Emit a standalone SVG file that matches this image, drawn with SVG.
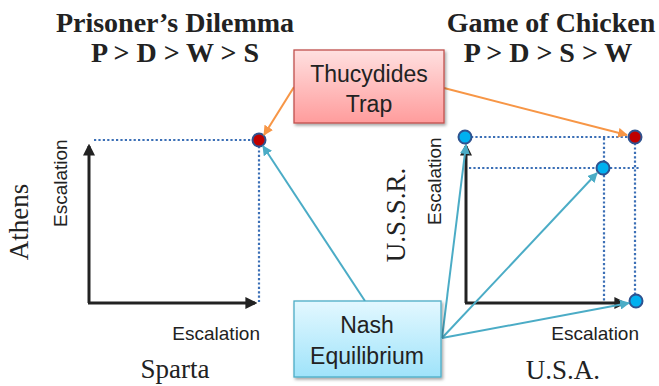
<svg xmlns="http://www.w3.org/2000/svg" width="659" height="386" viewBox="0 0 659 386">
<style>
.title{font-family:"Liberation Serif",serif;font-weight:bold;font-size:28px;fill:#222;text-anchor:middle}
.big{font-family:"Liberation Serif",serif;font-size:27px;fill:#222;text-anchor:middle}
.esc{font-family:"Liberation Sans",sans-serif;font-size:19px;fill:#222}
.box{font-family:"Liberation Sans",sans-serif;font-size:23px;fill:#222;text-anchor:middle}
.axis{stroke:#222;stroke-width:3;fill:none}
.dot{stroke:#3b6fb6;stroke-width:2.2;fill:none;stroke-dasharray:2.2 2.2}
.teal{stroke:#4bacc6;stroke-width:2;fill:none;marker-end:url(#at)}
.orange{stroke:#f79646;stroke-width:2;fill:none;marker-end:url(#ao)}
.bd{fill:#00b0f0;stroke:#2f528f;stroke-width:2}
.rd{fill:#c00000;stroke:#2f528f;stroke-width:2}
</style>
<defs>
<marker id="ak" viewBox="0 0 10 10" refX="8" refY="5" markerWidth="4" markerHeight="4" orient="auto" markerUnits="strokeWidth"><path d="M0,0L10,5L0,10z" fill="#222"/></marker>
<marker id="at" viewBox="0 0 10 10" refX="9" refY="5" markerWidth="5" markerHeight="5" orient="auto" markerUnits="strokeWidth"><path d="M0,0L10,5L0,10z" fill="#4bacc6"/></marker>
<marker id="ao" viewBox="0 0 10 10" refX="9" refY="5" markerWidth="5" markerHeight="5" orient="auto" markerUnits="strokeWidth"><path d="M0,0L10,5L0,10z" fill="#f79646"/></marker>
<linearGradient id="gr" x1="0" y1="0" x2="0" y2="1"><stop offset="0" stop-color="#ffe0e0"/><stop offset="1" stop-color="#ff9c9c"/></linearGradient>
<linearGradient id="gb" x1="0" y1="0" x2="0" y2="1"><stop offset="0" stop-color="#e3f8ff"/><stop offset="1" stop-color="#9fe3fa"/></linearGradient>
<filter id="sh" x="-10%" y="-10%" width="125%" height="130%"><feDropShadow dx="1.5" dy="2" stdDeviation="1.5" flood-color="#000" flood-opacity="0.35"/></filter>
</defs>

<g id="titles">
<text class="title" x="175" y="32">Prisoner’s Dilemma</text>
<text class="title" x="175" y="62">P &gt; D &gt; W &gt; S</text>
<text class="title" x="551" y="32">Game of Chicken</text>
<text class="title" x="548" y="62">P &gt; D &gt; S &gt; W</text>
</g>

<g id="left-plot">
<line class="dot" x1="94" y1="140" x2="254" y2="140"/>
<line class="dot" x1="259" y1="146" x2="259" y2="302"/>
<line class="axis" x1="89" y1="303" x2="89" y2="146" marker-end="url(#ak)"/>
<line class="axis" x1="88" y1="303" x2="255" y2="303" marker-end="url(#ak)"/>
<text class="esc" transform="translate(67,227) rotate(-90)">Escalation</text>
<text class="esc" x="260" y="340" text-anchor="end">Escalation</text>
<text class="big" transform="translate(28,222) rotate(-90)">Athens</text>
<text class="big" x="175" y="378">Sparta</text>
</g>

<g id="right-plot">
<line class="dot" x1="471" y1="137" x2="629" y2="137"/>
<line class="dot" x1="635" y1="143" x2="635" y2="295"/>
<line class="dot" x1="469" y1="168" x2="597" y2="168"/>
<line class="dot" x1="610" y1="168" x2="640" y2="168"/>
<line class="dot" x1="604" y1="138" x2="604" y2="161"/>
<line class="dot" x1="604" y1="175" x2="604" y2="302"/>
<line class="axis" x1="466" y1="303" x2="466" y2="146" marker-end="url(#ak)"/>
<line class="axis" x1="465" y1="303" x2="624" y2="303" marker-end="url(#ak)"/>
<text class="esc" transform="translate(441,225) rotate(-90)">Escalation</text>
<text class="esc" x="639" y="340" text-anchor="end">Escalation</text>
<text class="big" transform="translate(405,215) rotate(-90)">U.S.S.R.</text>
<text class="big" x="563" y="379">U.S.A.</text>
</g>

<g id="points">
<circle id="pd-dot" class="rd" cx="259" cy="140" r="6.5"/>
<circle id="c-top-left" class="bd" cx="465" cy="137" r="6.5"/>
<circle id="c-top-right" class="rd" cx="635" cy="137" r="6.5"/>
<circle id="c-mid" class="bd" cx="603" cy="168" r="6.5"/>
<circle id="c-bottom-right" class="bd" cx="636" cy="301" r="6.5"/>
</g>

<g id="connectors">
<line class="orange" x1="294" y1="87" x2="264" y2="135"/>
<line class="orange" x1="444" y1="88" x2="627" y2="135"/>
<line class="teal" x1="365" y1="301" x2="263" y2="146"/>
<line class="teal" x1="442" y1="338" x2="466" y2="145"/>
<line class="teal" x1="442" y1="338" x2="597" y2="173"/>
<line class="teal" x1="442" y1="338" x2="629" y2="303"/>
</g>

<g id="thucydides">
<rect x="294" y="50" width="150" height="73" fill="url(#gr)" stroke="#c0504d" stroke-width="1.3" filter="url(#sh)"/>
<text class="box" x="369" y="82">Thucydides</text>
<text class="box" x="369" y="112">Trap</text>
</g>

<g id="nash">
<rect x="294" y="301" width="147" height="76" fill="url(#gb)" stroke="#4bacc6" stroke-width="1.3" filter="url(#sh)"/>
<text class="box" x="367" y="333">Nash</text>
<text class="box" x="367" y="364">Equilibrium</text>
</g>
</svg>
